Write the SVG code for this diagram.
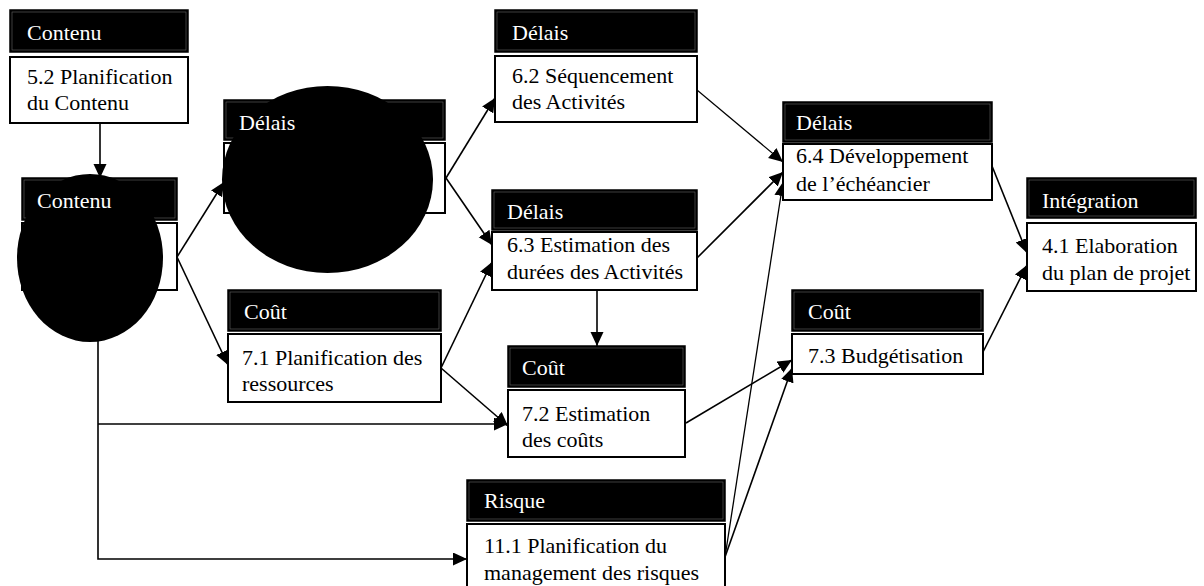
<svg xmlns="http://www.w3.org/2000/svg" width="1204" height="586" viewBox="0 0 1204 586">
<defs>
<marker id="ah" markerUnits="userSpaceOnUse" markerWidth="16" markerHeight="14" refX="14" refY="6.5" orient="auto">
<path d="M0,0 L14,6.5 L0,13 z" fill="#000"/>
</marker>
<style>
.hd{fill:#000;stroke:#000;stroke-width:1.5}
.hi{fill:none;stroke:#666;stroke-width:0.6}
.bd{fill:#fff;stroke:#000;stroke-width:2}
.ht{font-family:'Liberation Serif','Times New Roman',Times,serif;font-size:22px;fill:#fff}
.bt{font-family:'Liberation Serif','Times New Roman',Times,serif;font-size:22px;fill:#000}
.ca{fill:none;stroke:#000;stroke-width:1.6;marker-end:url(#ah)}
.blob{fill:#000}
</style>
</defs>
<rect width="1204" height="586" fill="#fff"/>
<g id="connectors">
<line class="ca" x1="100" y1="123" x2="100" y2="178"/>
<line class="ca" x1="177" y1="257" x2="224" y2="182"/>
<line class="ca" x1="177" y1="257" x2="228" y2="365"/>
<line class="ca" x1="446" y1="178" x2="495" y2="98"/>
<line class="ca" x1="446" y1="178" x2="492" y2="245"/>
<line class="ca" x1="441" y1="368" x2="492" y2="262"/>
<line class="ca" x1="441" y1="368" x2="508" y2="426"/>
<path class="ca" d="M98,290 V559 H467"/>
<line class="ca" x1="98" y1="424" x2="508" y2="424"/>
<line class="ca" x1="597" y1="290" x2="597" y2="346"/>
<line class="ca" x1="697" y1="90" x2="783" y2="162" style="stroke-width:1.2"/>
<line class="ca" x1="697" y1="258" x2="783" y2="172"/>
<line class="ca" x1="725" y1="557" x2="783" y2="182" style="stroke-width:1.3"/>
<line class="ca" x1="686" y1="423" x2="792" y2="360"/>
<line class="ca" x1="725" y1="557" x2="792" y2="368"/>
<line class="ca" x1="992" y1="166" x2="1027" y2="253"/>
<line class="ca" x1="983" y1="352" x2="1027" y2="265"/>
</g>
<g id="n52">
<rect class="hd" x="10" y="10" width="178" height="42"/><rect class="hi" x="12" y="12" width="174" height="38"/>
<rect class="bd" x="10" y="57" width="178" height="66"/>
<text class="ht" x="27" y="40">Contenu</text>
<text class="bt" x="27" y="84">5.2 Planification</text>
<text class="bt" x="27" y="110">du Contenu</text>
</g>
<g id="n51">
<rect class="hd" x="22" y="178" width="155" height="42"/><rect class="hi" x="24" y="180" width="151" height="38"/>
<rect class="bd" x="22" y="223" width="155" height="67"/>
<ellipse class="blob" cx="90" cy="258" rx="73" ry="84"/>
<text class="ht" x="37" y="208">Contenu</text>
</g>
<g id="n61">
<rect class="hd" x="224" y="100" width="221" height="40"/><rect class="hi" x="226" y="102" width="217" height="36"/>
<rect class="bd" x="224" y="143" width="221" height="70"/>
<ellipse class="blob" cx="327.5" cy="179.5" rx="105.5" ry="93.5"/>
<text class="ht" x="239" y="130">Délais</text>
</g>
<g id="n62">
<rect class="hd" x="495" y="10" width="202" height="42"/><rect class="hi" x="497" y="12" width="198" height="38"/>
<rect class="bd" x="495" y="56" width="202" height="66"/>
<text class="ht" x="512" y="40">Délais</text>
<text class="bt" x="512" y="83">6.2 Séquencement</text>
<text class="bt" x="512" y="109">des Activités</text>
</g>
<g id="n63">
<rect class="hd" x="492" y="190" width="205" height="40"/><rect class="hi" x="494" y="192" width="201" height="36"/>
<rect class="bd" x="492" y="232" width="205" height="58"/>
<text class="ht" x="507" y="219">Délais</text>
<text class="bt" x="507" y="252">6.3 Estimation des</text>
<text class="bt" x="507" y="279">durées des Activités</text>
</g>
<g id="n71">
<rect class="hd" x="228" y="290" width="213" height="41"/><rect class="hi" x="230" y="292" width="209" height="37"/>
<rect class="bd" x="228" y="334" width="213" height="68"/>
<text class="ht" x="244" y="319">Coût</text>
<text class="bt" x="242" y="365">7.1 Planification des</text>
<text class="bt" x="242" y="391">ressources</text>
</g>
<g id="n72">
<rect class="hd" x="508" y="346" width="177" height="41"/><rect class="hi" x="510" y="348" width="173" height="37"/>
<rect class="bd" x="508" y="390" width="177" height="67"/>
<text class="ht" x="522" y="375">Coût</text>
<text class="bt" x="522" y="421">7.2 Estimation</text>
<text class="bt" x="522" y="447">des coûts</text>
</g>
<g id="n64">
<rect class="hd" x="783" y="102" width="209" height="40"/><rect class="hi" x="785" y="104" width="205" height="36"/>
<rect class="bd" x="783" y="144" width="209" height="56"/>
<text class="ht" x="796" y="130">Délais</text>
<text class="bt" x="796" y="163">6.4 Développement</text>
<text class="bt" x="796" y="191">de l’échéancier</text>
</g>
<g id="n73">
<rect class="hd" x="792" y="290" width="191" height="41"/><rect class="hi" x="794" y="292" width="187" height="37"/>
<rect class="bd" x="792" y="334" width="191" height="40"/>
<text class="ht" x="808" y="319">Coût</text>
<text class="bt" x="808" y="363">7.3 Budgétisation</text>
</g>
<g id="n41">
<rect class="hd" x="1027" y="178" width="169" height="40"/><rect class="hi" x="1029" y="180" width="165" height="36"/>
<rect class="bd" x="1027" y="223" width="169" height="68"/>
<text class="ht" x="1042" y="208">Intégration</text>
<text class="bt" x="1042" y="253">4.1 Elaboration</text>
<text class="bt" x="1042" y="280">du plan de projet</text>
</g>
<g id="n111">
<rect class="hd" x="467" y="480" width="258" height="41"/><rect class="hi" x="469" y="482" width="254" height="37"/>
<rect class="bd" x="467" y="524" width="258" height="70"/>
<text class="ht" x="484" y="508">Risque</text>
<text class="bt" x="484" y="553">11.1 Planification du</text>
<text class="bt" x="484" y="580">management des risques</text>
</g>
</svg>
